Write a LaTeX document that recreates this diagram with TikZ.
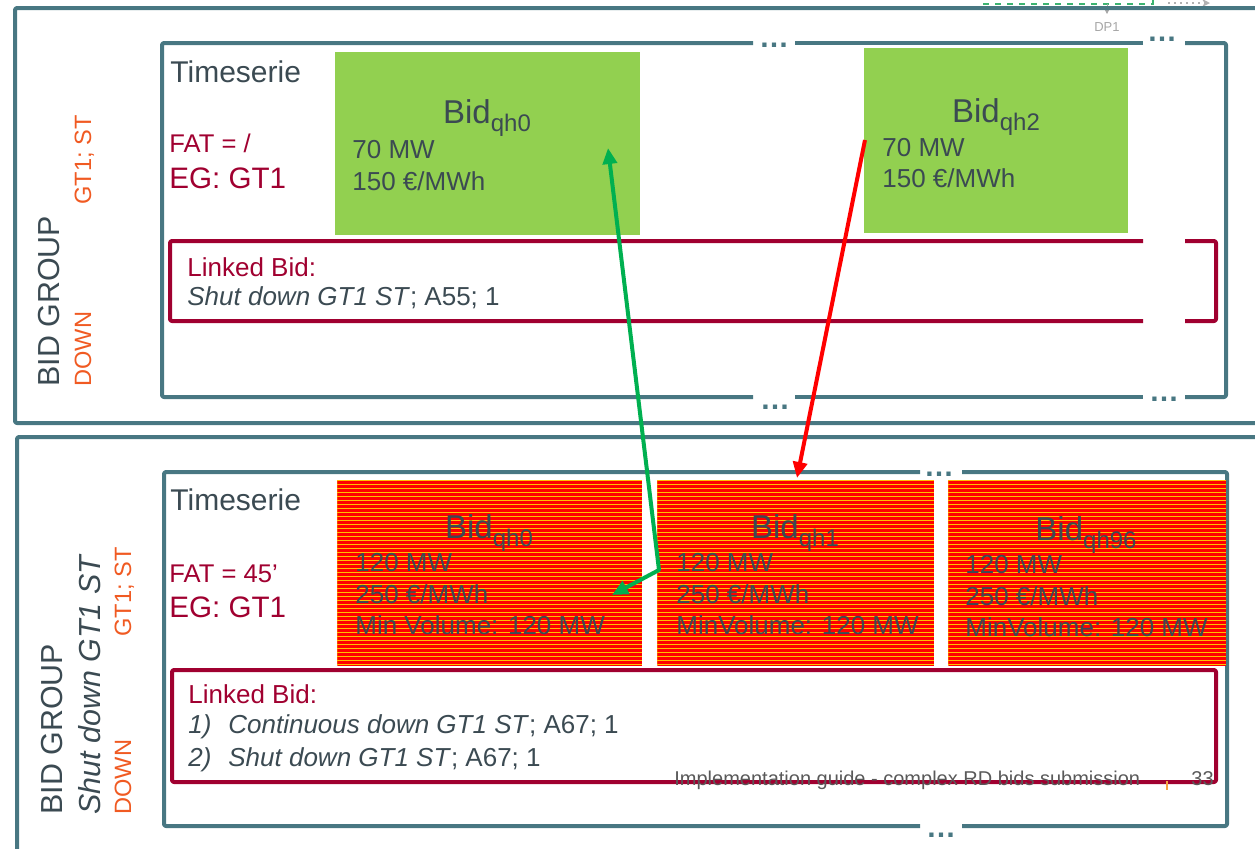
\documentclass[tikz,border=0pt]{standalone}
\usepackage{fontspec}
\setmainfont{Liberation Sans}
\usetikzlibrary{arrows.meta}
\definecolor{tealc}{HTML}{487782}
\definecolor{darktxt}{HTML}{3B4A52}
\definecolor{crim}{HTML}{A00030}
\definecolor{orng}{HTML}{F05A22}
\definecolor{bidgreen}{HTML}{92D050}
\definecolor{stripered}{HTML}{FF0000}
\definecolor{stripeyel}{HTML}{FFC000}
\definecolor{arrgreen}{HTML}{00B050}
\definecolor{footgray}{HTML}{595959}
\definecolor{dpgreen}{HTML}{3CB371}
\definecolor{tickorange}{HTML}{F7A440}
\newcommand\bidt[1]{Bid\raisebox{-4pt}{\fontsize{12}{12}\selectfont qh#1}}
\begin{document}
\begin{tikzpicture}[x=0.5pt,y=-0.5pt,
  frame/.style={draw=tealc, line width=2pt, line join=round, rounded corners=1pt},
  linkframe/.style={draw=crim, line width=2pt, line join=round, rounded corners=1pt},
  greenbid/.style={fill=bidgreen, draw=none, inner sep=0pt, anchor=north west},
  stripebid/.style={fill=stripeyel, draw=none, inner sep=0pt, anchor=north west,
    path picture={\foreach \k in {0,...,46}{\fill[stripered]
      ([yshift=-\k*2pt-0.4pt]path picture bounding box.north west) rectangle
      ([yshift=-\k*2pt-1.6pt]path picture bounding box.north east);}}},
  body/.style={inner sep=0pt, text=darktxt, font=\fontsize{13}{15}\selectfont, anchor=base west},
  bidtitle/.style={inner sep=0pt, text=darktxt, font=\fontsize{16.5}{18}\selectfont, anchor=base},
  tstxt/.style={inner sep=0pt, text=darktxt, font=\fontsize{15}{17}\selectfont, anchor=base west},
  fattxt/.style={inner sep=0pt, text=crim, font=\fontsize{12.8}{15}\selectfont, anchor=base west},
  egtxt/.style={inner sep=0pt, text=crim, font=\fontsize{14.8}{17}\selectfont, anchor=base west},
  lbtxt/.style={inner sep=0pt, text=crim, font=\fontsize{13}{15}\selectfont, anchor=base west},
  vbig/.style={inner sep=0pt, text=darktxt, rotate=90, font=\fontsize{15.2}{17}\selectfont},
  vsmall/.style={inner sep=0pt, text=orng, rotate=90, font=\fontsize{11.8}{14}\selectfont},
  dotstxt/.style={inner sep=0pt, text=tealc, font=\fontsize{15}{15}\selectfont\bfseries, anchor=base},
  garrow/.style={draw=arrgreen, line width=2pt, line join=round},
  rarrow/.style={draw=red, line width=2pt},
]
\useasboundingbox (0,0) rectangle (1255,848);
\clip (0,0) rectangle (1255,848);

% top-right remnants
\draw[dashed, draw=dpgreen, line width=1pt] (983,-20) rectangle (1153,4);
\coordinate (dpa) at (1107,4);
\coordinate (dpb) at (1107,14);
\draw[gray!70, line width=0.5pt, -{Triangle[length=3pt,width=3pt]}] (dpa) -- (dpb);
\node[inner sep=0pt, text=gray!70, font=\fontsize{6.5}{7}\selectfont] (dp1) at (1107,27) {DP1};
\coordinate (dqa) at (1168,3);
\coordinate (dqb) at (1210,3);
\draw[gray!60, line width=1pt, dotted, -{Stealth[length=4pt,width=4pt]}] (dqa) -- (dqb);

% outer frames
\draw[frame] (1300,423) -- (15,423) -- (15,8) -- (1300,8);
\draw[frame] (1300,437) -- (17,437) -- (17,900);

% inner frame 1 with gaps
\draw[frame] (753,43) -- (162,43) -- (162,397) -- (753,397);
\draw[frame] (795,397) -- (1143,397);
\draw[frame] (1185,397) -- (1226,397) -- (1226,43) -- (1185,43);
\draw[frame] (1143,43) -- (795,43);
\node[dotstxt] (dt1) at (774,47) {…};
\node[dotstxt] (dt2) at (1162,41) {…};
\node[dotstxt] (dt3) at (775,409) {…};
\node[dotstxt] (dt4) at (1164,401) {…};

% inner frame 2 with gaps
\draw[frame] (920,472) -- (164,472) -- (164,826) -- (920,826);
\draw[frame] (962,826) -- (1227,826) -- (1227,472) -- (962,472);
\node[dotstxt] (dt5) at (939,476) {…};
\node[dotstxt] (dt6) at (941,837) {…};

% ---- group 1 ----
\node[vbig, anchor=base west] (bg1) at (60,387) {BID GROUP};
\node[vsmall, anchor=base west] (dn1) at (91,387) {DOWN};
\node[vsmall, anchor=base east] (gs1) at (91,115) {GT1; ST};

\node[tstxt] (ts1) at (170,82) {Timeserie};
\node[fattxt] (fat1) at (169,152) {FAT = /};
\node[egtxt] (eg1) at (169,188) {EG: GT1};

\node[greenbid, minimum width=152.5pt, minimum height=91.5pt] (g0) at (335,52) {};
\node[bidtitle] (g0t) at (487,123) {\bidt{0}};
\node[body] (g0a) at (352,158) {70 MW};
\node[body] (g0b) at (352,190) {150 €/MWh};

\node[greenbid, minimum width=132pt, minimum height=92.5pt] (g2) at (864,48) {};
\node[bidtitle] (g2t) at (996,122) {\bidt{2}};
\node[body] (g2a) at (882,156) {70 MW};
\node[body] (g2b) at (882,187) {150 €/MWh};

\draw[linkframe] (1143,241) -- (170,241) -- (170,321) -- (1143,321);
\draw[linkframe] (1185,241) -- (1216,241) -- (1216,321) -- (1185,321);
\node[lbtxt] (lb1) at (187,276) {Linked Bid:};
\node[body] (lb1a) at (187,305) {\textit{Shut down GT1 ST}; A55; 1};

% ---- group 2 ----
\node[vbig, anchor=base west] (bg2) at (62,815) {BID GROUP};
\node[vbig, anchor=base west] (sd2) at (100,815) {\textit{Shut down GT1 ST}};
\node[vsmall, anchor=base west] (dn2) at (131,815) {DOWN};
\node[vsmall, anchor=base east] (gs2) at (131,547) {GT1; ST};

\node[tstxt] (ts2) at (170,510) {Timeserie};
\node[fattxt] (fat2) at (169,582) {FAT = 45’};
\node[egtxt] (eg2) at (169,617) {EG: GT1};

\node[stripebid, minimum width=152.5pt, minimum height=92.5pt] (sA) at (337,480) {};
\node[bidtitle] (sAt) at (489,538) {\bidt{0}};
\node[body] (sAa) at (355,571) {120 MW};
\node[body] (sAb) at (355,603) {250 €/MWh};
\node[body] (sAc) at (355,634) {Min Volume: 120 MW};

\node[stripebid, minimum width=138.5pt, minimum height=92.5pt] (sB) at (657,480) {};
\node[bidtitle] (sBt) at (795,538) {\bidt{1}};
\node[body] (sBa) at (676,571) {120 MW};
\node[body] (sBb) at (676,603) {250 €/MWh};
\node[body] (sBc) at (676,634) {MinVolume: 120 MW};

\node[stripebid, minimum width=139pt, minimum height=92.5pt] (sC) at (948,480) {};
\node[bidtitle] (sCt) at (1086,540) {\bidt{96}};
\node[body] (sCa) at (965,573) {120 MW};
\node[body] (sCb) at (965,605) {250 €/MWh};
\node[body] (sCc) at (965,636) {MinVolume: 120 MW};

\draw[linkframe] (172,670) rectangle (1216,782);
\node[lbtxt] (lb2) at (188,703) {Linked Bid:};
\node[body] (lb2a) at (188,733) {\textit{1)}};
\node[body] (lb2b) at (228,733) {\textit{Continuous down GT1 ST}; A67; 1};
\node[body] (lb2c) at (188,766) {\textit{2)}};
\node[body] (lb2d) at (228,766) {\textit{Shut down GT1 ST}; A67; 1};

% footer
\node[inner sep=0pt, anchor=base west, text=footgray, font=\fontsize{10}{12}\selectfont] (ft) at (674,785) {Implementation guide - complex RD bids submission};
\coordinate (tk1) at (1167,781);
\coordinate (tk2) at (1167,790);
\draw[tickorange, line width=0.6pt] (tk1) -- (tk2);
\node[inner sep=0pt, anchor=base west, text=footgray, font=\fontsize{10}{12}\selectfont] (pg) at (1191,785) {33};

% arrows
\coordinate (gtop) at (608,148);
\coordinate (gmid) at (659,570);
\coordinate (gend) at (612,595);
\draw[garrow, {Triangle[length=8pt,width=7pt]}-{Triangle[length=8pt,width=7pt]}] (gtop) -- (gmid) -- (gend);
\coordinate (rs) at (865,140);
\coordinate (re) at (797,478);
\draw[rarrow, -{Triangle[length=8pt,width=7pt]}] (rs) -- (re);
\end{tikzpicture}
\end{document}
